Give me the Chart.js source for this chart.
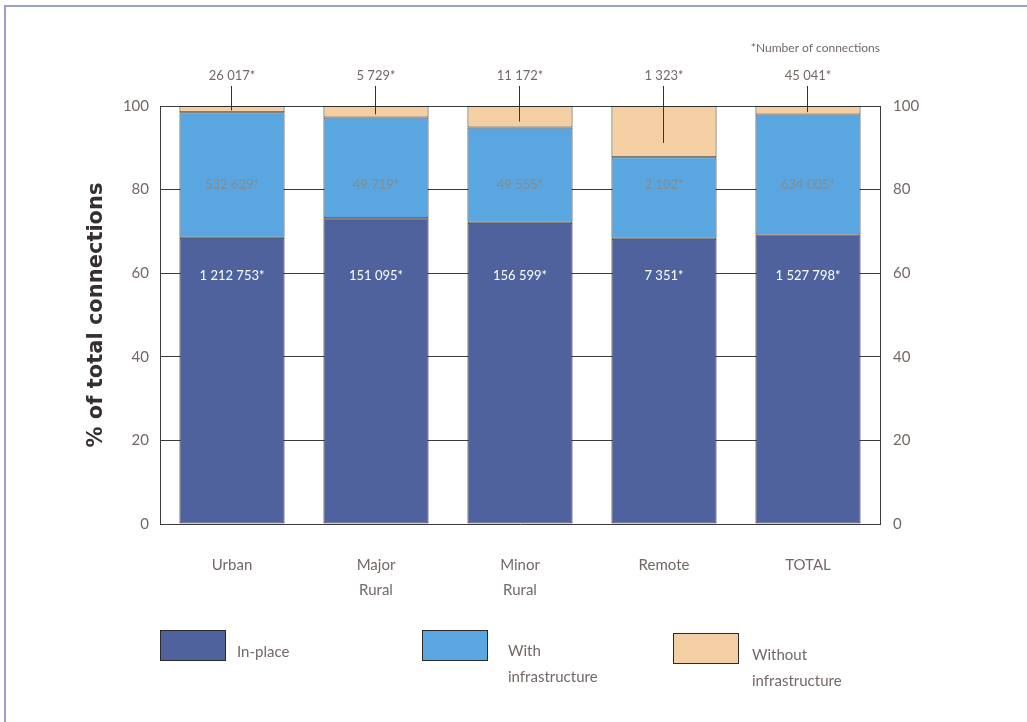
<!DOCTYPE html>
<html>
<head>
<meta charset="utf-8">
<title>Connections by area type</title>
<script src="https://cdn.jsdelivr.net/npm/chart.js@4.4.1/dist/chart.umd.min.js"></script>
<style>
  html, body { margin: 0; padding: 0; background: #fff; }
  #wrap { position: relative; width: 1027px; height: 722px; overflow: hidden; }
  #frame { position: absolute; left: 4px; top: 5px; width: 1100px; height: 800px;
           border-top: 2px solid #9ba0cc; border-left: 2px solid #9ba0cc; }
  canvas { position: absolute; left: 0; top: 0; }
</style>
</head>
<body>
<div id="wrap">
  <div id="frame"></div>
  <canvas id="chart" width="1027" height="722"></canvas>
</div>
<script>
// Area types along the x axis
const categories = [['Urban'], ['Major', 'Rural'], ['Minor', 'Rural'], ['Remote'], ['TOTAL']];

// Number of connections in each group
const inPlace = [1212753, 151095, 156599, 7351, 1527798];
const withInfrastructure = [532629, 49719, 49555, 2102, 634005];
const withoutInfrastructure = [26017, 5729, 11172, 1323, 45041];

const seriesNames = ['In-place', ['With', 'infrastructure'], ['Without', 'infrastructure']];
const yTicks = [0, 20, 40, 60, 80, 100];

// Share of each area's connections, in percent
const totals = inPlace.map((v, i) => v + withInfrastructure[i] + withoutInfrastructure[i]);
const pct = arr => arr.map((v, i) => v / totals[i] * 100);
const pctInPlace = pct(inPlace);
const pctWith = pct(withInfrastructure);
const pctWithout = pct(withoutInfrastructure);

const fmt = n => n.toString().replace(/\B(?=(\d{3})+(?!\d))/g, ' ') + '*';

const TEXT = '#736866';
const FONT = 'Lato, "Open Sans", sans-serif';
const GRID = '#3c3c3c';

// Count labels, leader lines, note and legend drawn on top of the bars
const annotations = {
  id: 'annotations',
  afterDatasetsDraw(chart) {
    const { ctx, chartArea, scales } = chart;
    const y = scales.y;
    const m0 = chart.getDatasetMeta(0).data;
    ctx.save();
    ctx.textAlign = 'center';
    ctx.textBaseline = 'middle';
    for (let i = 0; i < categories.length; i++) {
      const x = m0[i].x;
      // in-place counts
      ctx.fillStyle = '#ffffff';
      ctx.font = '13px ' + FONT;
      ctx.fillText(fmt(inPlace[i]), x, y.getPixelForValue(59.3));
      // with-infrastructure counts
      ctx.fillStyle = '#8a8a8a';
      ctx.fillText(fmt(withInfrastructure[i]), x, y.getPixelForValue(81.2));
      // without-infrastructure counts above the plot, with leader line
      ctx.fillStyle = TEXT;
      ctx.fillText(fmt(withoutInfrastructure[i]), x, chartArea.top - 30);
      ctx.strokeStyle = '#333';
      ctx.lineWidth = 1;
      ctx.beginPath();
      const lx = Math.round(x) - 0.5;
      ctx.moveTo(lx, chartArea.top - 20);
      ctx.lineTo(lx, y.getPixelForValue(100 - 0.72 * pctWithout[i]));
      ctx.stroke();
    }
    // note
    ctx.textAlign = 'right';
    ctx.font = '12px ' + FONT;
    ctx.fillStyle = TEXT;
    ctx.fillText('*Number of connections', chartArea.right, chartArea.top - 58);

    // legend
    const items = [
      { x: 160, y: 630, tx: 237, ty: 652 },
      { x: 422, y: 630, tx: 508, ty: 651 },
      { x: 673, y: 633, tx: 752, ty: 655 }
    ];
    ctx.textAlign = 'left';
    ctx.font = '15px ' + FONT;
    chart.data.datasets.forEach((ds, i) => {
      const it = items[i];
      ctx.fillStyle = ds.backgroundColor;
      ctx.fillRect(it.x, it.y, 66, 31);
      ctx.strokeStyle = '#2a2a2a';
      ctx.lineWidth = 1;
      ctx.strokeRect(it.x + 0.5, it.y + 0.5, 65, 30);
      ctx.fillStyle = TEXT;
      const lines = Array.isArray(ds.label) ? ds.label : [ds.label];
      lines.forEach((t, k) => ctx.fillText(t, it.tx, it.ty + k * 26));
    });
    ctx.restore();
  }
};

new Chart(document.getElementById('chart'), {
  type: 'bar',
  data: {
    labels: categories,
    datasets: [
      { label: seriesNames[0], data: pctInPlace, backgroundColor: '#4f629d' },
      { label: seriesNames[1], data: pctWith, backgroundColor: '#59a6e0' },
      { label: seriesNames[2], data: pctWithout, backgroundColor: '#f4cfa4' }
    ].map(d => Object.assign(d, {
      borderColor: '#2e2e2e', borderWidth: 1, borderSkipped: false,
      barPercentage: 0.73, categoryPercentage: 1
    }))
  },
  options: {
    responsive: false,
    animation: false,
    events: [],
    layout: { padding: { top: 106, left: 0, right: 0, bottom: 0 } },
    plugins: { legend: { display: false }, tooltip: { enabled: false } },
    scales: {
      x: {
        stacked: true,
        grid: { display: false, drawTicks: false },
        border: { display: false },
        ticks: { color: TEXT, font: { family: FONT, size: 15, lineHeight: 1.65 }, padding: 29, maxRotation: 0 },
        afterFit: s => { s.height = 198; }
      },
      y: {
        stacked: true,
        min: 0, max: 100,
        afterBuildTicks: s => { s.ticks = yTicks.map(v => ({ value: v })); },
        grid: { color: GRID, lineWidth: 1, drawTicks: false },
        border: { display: true, color: GRID, width: 1 },
        ticks: { color: TEXT, font: { family: FONT, size: 15 }, padding: 11 },
        title: {
          display: true, text: '% of total connections', color: '#352f2f',
          font: { family: '"DejaVu Sans", sans-serif', size: 21, weight: 'bold' },
          padding: { top: 84, bottom: 0 }
        },
        afterFit: s => { s.width = 160; }
      },
      y2: {
        position: 'right',
        min: 0, max: 100,
        afterBuildTicks: s => { s.ticks = yTicks.map(v => ({ value: v })); },
        grid: { display: false, drawTicks: false },
        border: { display: true, color: GRID, width: 1 },
        ticks: { color: TEXT, font: { family: FONT, size: 15 }, padding: 13 },
        afterFit: s => { s.width = 147; }
      }
    }
  },
  plugins: [annotations]
});
</script>
</body>
</html>
